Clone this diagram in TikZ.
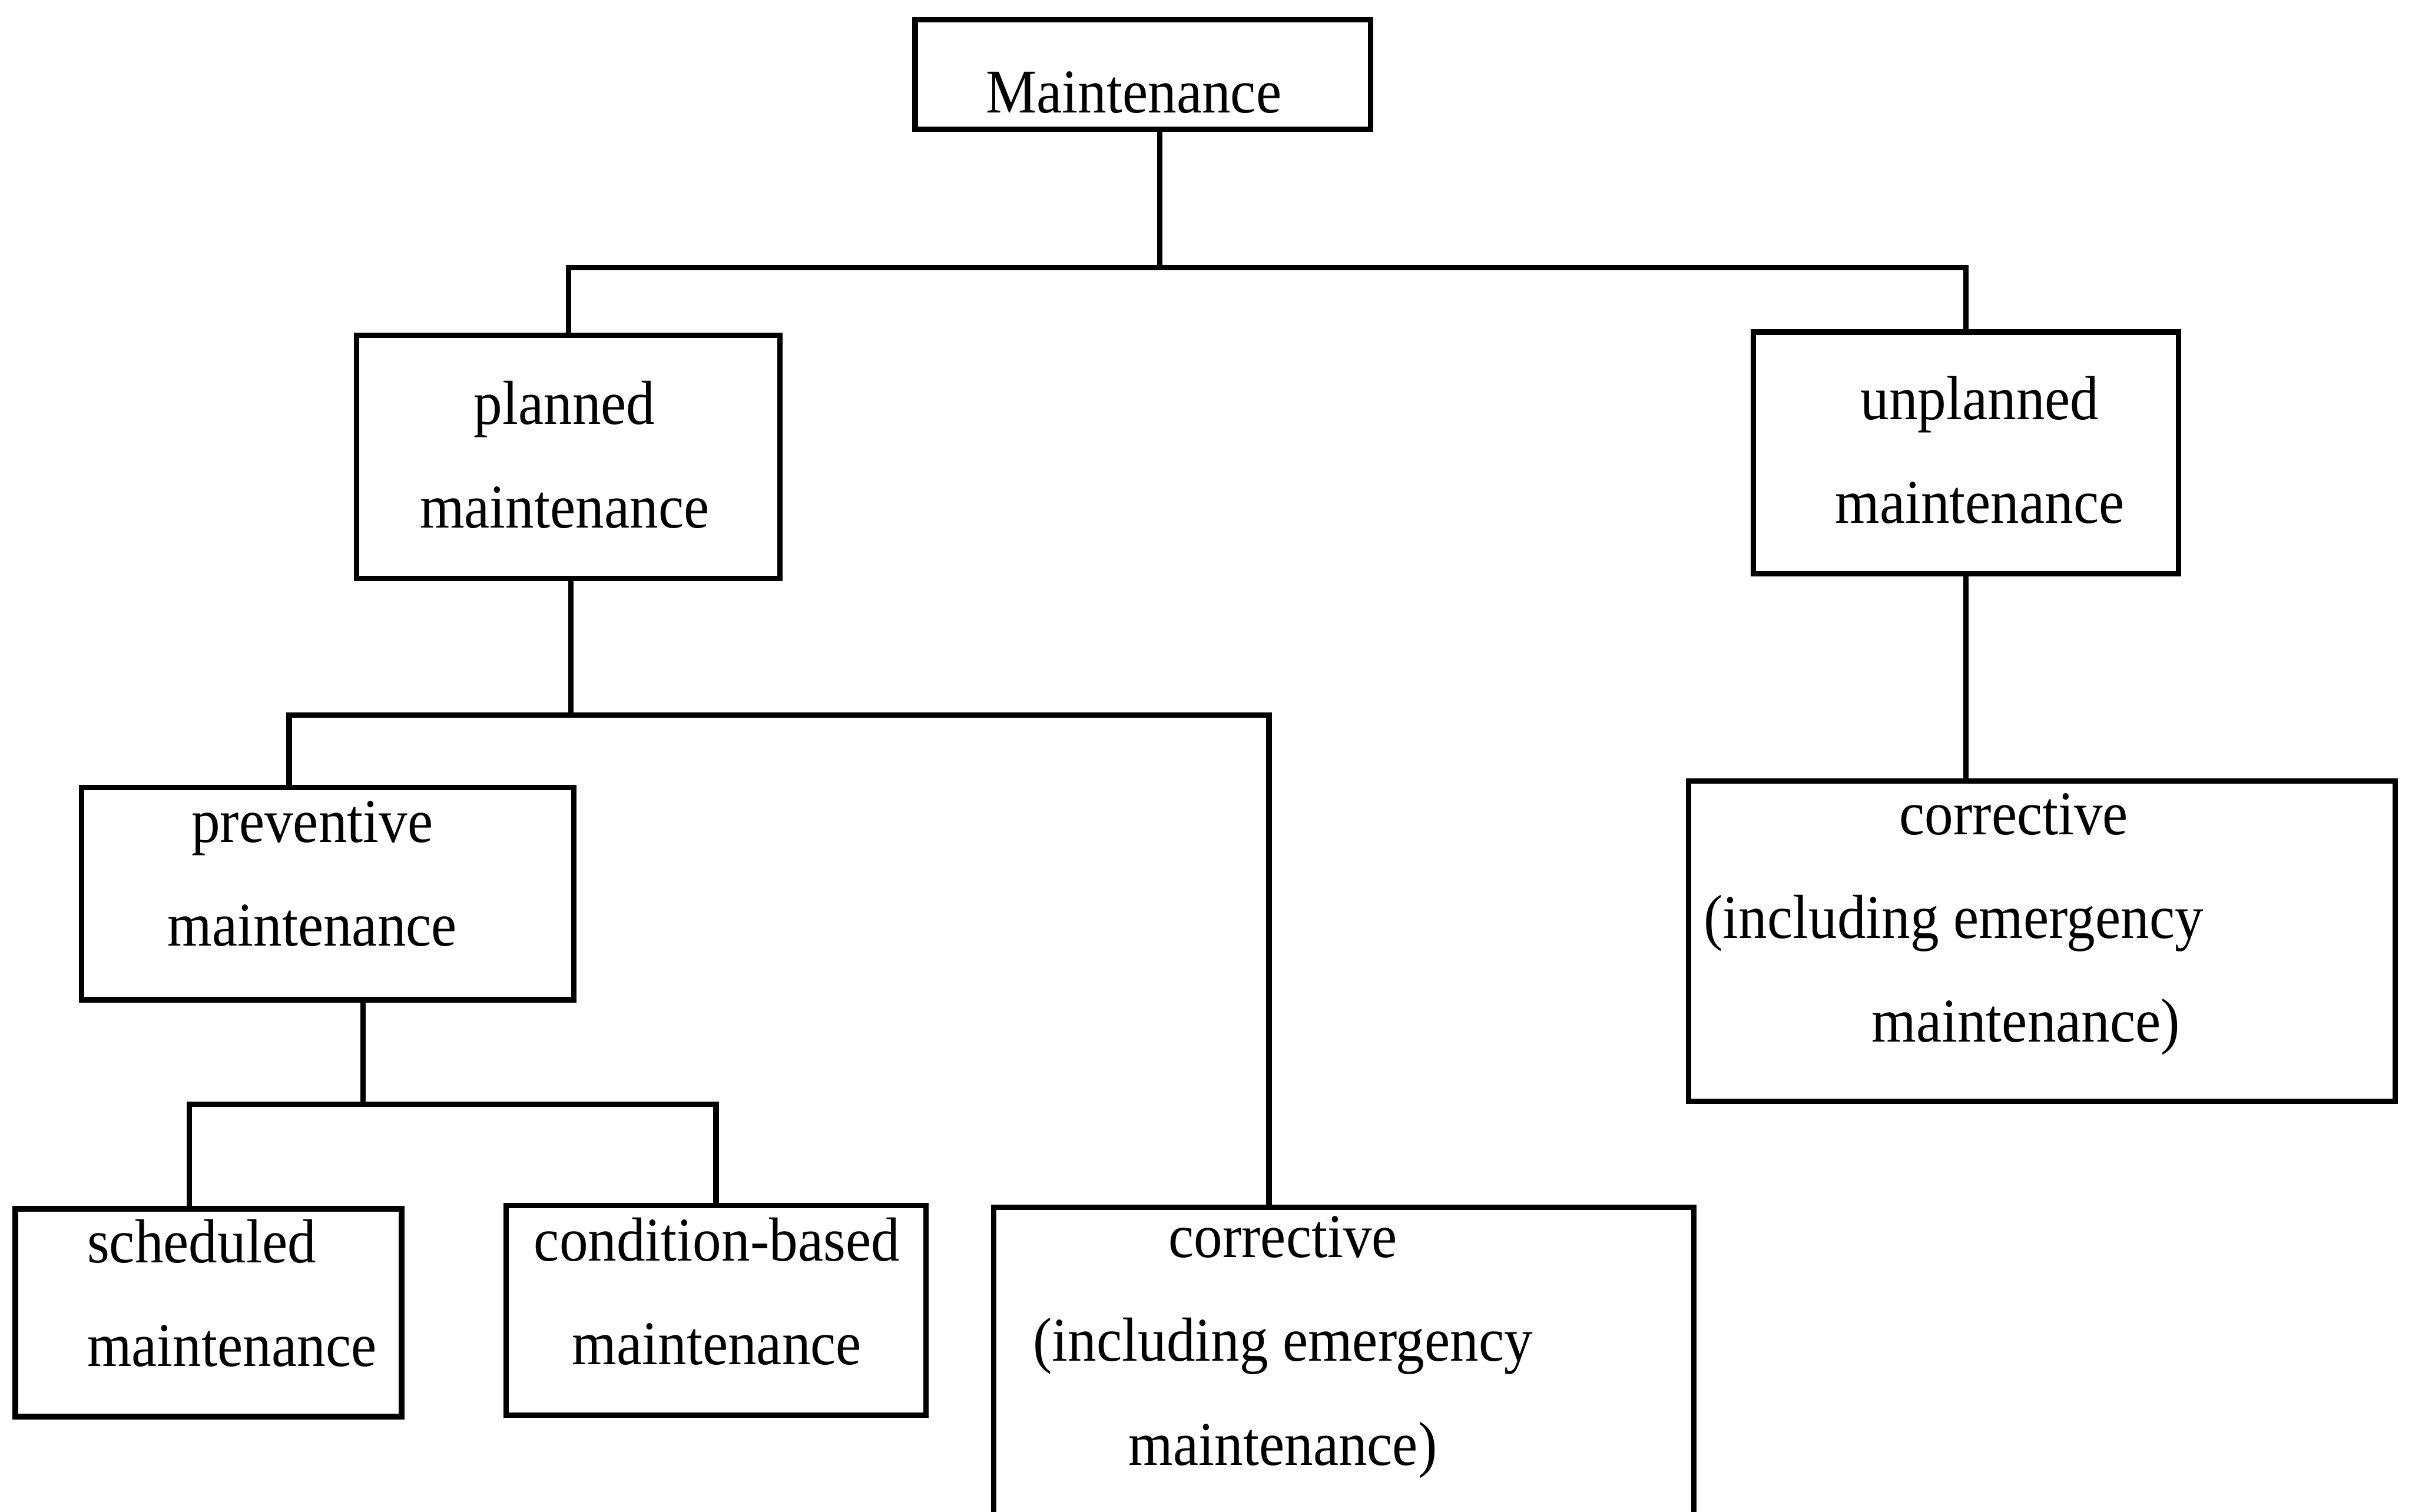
\documentclass[tikz,border=0pt]{standalone}
\usepackage{fontspec}
\setmainfont{Liberation Serif}[FakeStretch=0.92]
\usetikzlibrary{positioning}

\begin{document}
\begin{tikzpicture}[x=0.01cm, y=-0.01cm,
    box/.style={draw, line width=1pt, inner sep=0pt},
    txt/.style={inner sep=0pt, anchor=north, align=center, font=\fontsize{11.5}{19.2}\selectfont},
    link/.style={line width=1pt}]
    \clip (0,0) rectangle (1568,983);

    % Define boxes of the tree
    \node[box, minimum width=2.96cm, minimum height=0.71cm] (main) at (743,48.5) {};
    \node[box, minimum width=2.75cm, minimum height=1.58cm] (plan) at (369.5,297) {};
    \node[box, minimum width=2.76cm, minimum height=1.57cm] (unplan) at (1278,294.5) {};
    \node[box, minimum width=3.20cm, minimum height=1.38cm] (prev) at (213,581) {};
    \node[box, minimum width=2.51cm, minimum height=1.35cm] (sched) at (135.5,853.5) {};
    \node[box, minimum width=2.73cm, minimum height=1.36cm] (cond) at (465.5,852) {};
    \node[box, minimum width=4.55cm, minimum height=2.45cm] (corrM) at (873.5,907.5) {};
    \node[box, minimum width=4.59cm, minimum height=2.08cm] (corrR) at (1327.5,612) {};

    % Texts
    \node[txt] (mainT) at (737,46) {Maintenance};
    \node[txt] (planT) at (367,247) {planned\\maintenance};
    \node[txt] (unplanT) at (1287,244) {unplanned\\maintenance};
    \node[txt] (prevT) at (203,520) {preventive\\maintenance};
    \node[txt, anchor=north west, align=left] (schedT) at (56,792) {scheduled\\maintenance};
    \node[txt] (condT) at (466,791) {condition-based\\maintenance};
    \node[txt] (corrMT) at (834,790) {corrective\\(including emergency\\maintenance)};
    \node[txt, anchor=north west, align=left] (corrRT) at (1107,515)
        {\hspace*{1.27cm}corrective\\(including emergency\\\hspace*{1.09cm}maintenance)};

    % Junctions
    \coordinate (j1) at (754,174);
    \coordinate (j2) at (371,465);
    \coordinate (j3) at (236,718);

    % Draw connectors
    \draw[link] (main.south -| j1) -- (j1);
    \draw[link] (plan.north) |- (j1) -| (unplan.north);
    \draw[link] (plan.south -| j2) -- (j2);
    \draw[link] ([xshift=-0.25cm]prev.north) |- (j2) -| ([xshift=-0.485cm]corrM.north);
    \draw[link] (unplan.south) -- (unplan.south |- corrR.north);
    \draw[link] (prev.south -| j3) -- (j3);
    \draw[link] ([xshift=-0.125cm]sched.north) |- (j3) -| (cond.north);
\end{tikzpicture}
\end{document}
